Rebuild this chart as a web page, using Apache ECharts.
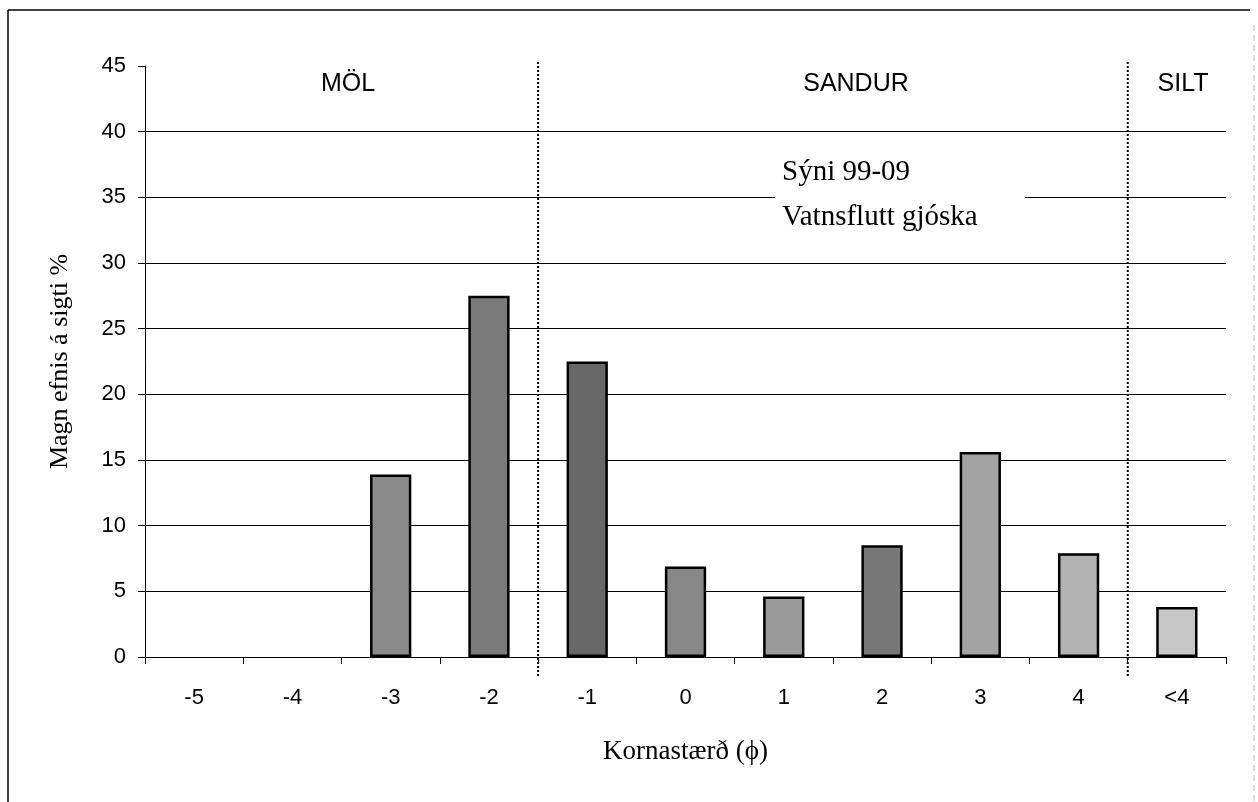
<!DOCTYPE html>
<html>
<head>
<meta charset="utf-8">
<script src="https://cdn.jsdelivr.net/npm/echarts@6/dist/echarts.min.js"></script>
<style>
html,body{margin:0;padding:0;background:#fff;}
#c{width:1258px;height:802px;}
</style>
</head>
<body>
<div id="c"></div>
<script>
var categories = ['-5', '-4', '-3', '-2', '-1', '0', '1', '2', '3', '4', '<4'];
var values = [0, 0, 13.9, 27.5, 22.5, 6.9, 4.6, 8.5, 15.6, 7.9, 3.8];
var barColors = ['#8c8c8c', '#8c8c8c', '#8a8a8a', '#7a7a7a', '#686868', '#878787', '#9a9a9a', '#777777', '#a2a2a2', '#b2b2b2', '#c6c6c6'];
var yTicks = [0, 5, 10, 15, 20, 25, 30, 35, 40, 45];
var boundaries = [4, 10];           // category boundaries (between -2/-1 and 4/<4)
var regions = ['MÖL', 'SANDUR', 'SILT'];

var chart = echarts.init(document.getElementById('c'));
var sans = 'Liberation Sans, Arial, sans-serif';
var serif = 'Liberation Serif, Times New Roman, serif';

var barData = values.map(function (v, i) {
  return { value: v, itemStyle: { color: barColors[i], borderWidth: v === 0 ? 0 : 2.5 } };
});

var boundarySeries = boundaries.map(function (b) {
  return {
    type: 'line',
    xAxisIndex: 1,
    yAxisIndex: 0,
    data: [[b, 45.3], [b, -1.5]],
    symbol: 'none',
    clip: false,
    silent: true,
    lineStyle: { color: '#000', width: 2, type: [2, 2] },
    z: 5
  };
});

chart.setOption({
  backgroundColor: '#fff',
  animation: false,
  grid: { left: 145, right: 32, top: 66, bottom: 145 },
  xAxis: [{
    type: 'category',
    data: categories,
    axisLine: { lineStyle: { color: '#000', width: 1 } },
    axisTick: { show: true, length: 7, lineStyle: { color: '#000' } },
    axisLabel: { color: '#000', fontFamily: sans, fontSize: 22, margin: 30 },
    name: 'Kornastærð (ϕ)',
    nameLocation: 'middle',
    nameGap: 81,
    nameTextStyle: { color: '#000', fontFamily: serif, fontSize: 27 }
  }, {
    type: 'value',
    min: 0,
    max: 11,
    show: false
  }],
  yAxis: {
    type: 'value',
    min: 0,
    max: 45,
    interval: 5,
    axisLine: { show: true, lineStyle: { color: '#000', width: 1 } },
    axisTick: { show: true, length: 7, lineStyle: { color: '#000' } },
    axisLabel: { color: '#000', fontFamily: sans, fontSize: 22, margin: 19,
      formatter: function (v) { return yTicks.indexOf(v) >= 0 ? String(v) : ''; } },
    splitLine: { show: true, showMaxLine: false, lineStyle: { color: '#000', width: 1.2 } },
    name: 'Magn efnis á sigti %',
    nameLocation: 'middle',
    nameGap: 72,
    nameTextStyle: { color: '#000', fontFamily: serif, fontSize: 26 }
  },
  series: [{
    type: 'bar',
    data: barData,
    barWidth: '42%',
    itemStyle: { borderColor: '#000', borderWidth: 2.5 },
    z: 3
  }].concat(boundarySeries),
  graphic: [
    { type: 'line', shape: { x1: 8, y1: 10, x2: 1250, y2: 10 }, style: { stroke: '#000', lineWidth: 1.5 } },
    { type: 'line', shape: { x1: 8, y1: 10, x2: 8, y2: 802 }, style: { stroke: '#000', lineWidth: 1.5 } },
    { type: 'line', shape: { x1: 1254, y1: 25, x2: 1254, y2: 802 }, style: { stroke: '#bbb', lineWidth: 1, lineDash: [6, 4] } },
    { type: 'text', x: 348, y: 84, style: { text: regions[0], font: '25px ' + sans, fill: '#000', textAlign: 'center', textVerticalAlign: 'middle' } },
    { type: 'text', x: 856, y: 84, style: { text: regions[1], font: '25px ' + sans, fill: '#000', textAlign: 'center', textVerticalAlign: 'middle' } },
    { type: 'text', x: 1183, y: 84, style: { text: regions[2], font: '25px ' + sans, fill: '#000', textAlign: 'center', textVerticalAlign: 'middle' } },
    { type: 'rect', shape: { x: 775, y: 148, width: 250, height: 90 }, style: { fill: '#fff' }, z: 10 },
    { type: 'text', x: 782, y: 172, z: 11, style: { text: 'Sýni 99-09', font: '29px ' + serif, fill: '#000', textVerticalAlign: 'middle' } },
    { type: 'text', x: 782, y: 217, z: 11, style: { text: 'Vatnsflutt gjóska', font: '29px ' + serif, fill: '#000', textVerticalAlign: 'middle' } }
  ]
});
</script>
</body>
</html>
